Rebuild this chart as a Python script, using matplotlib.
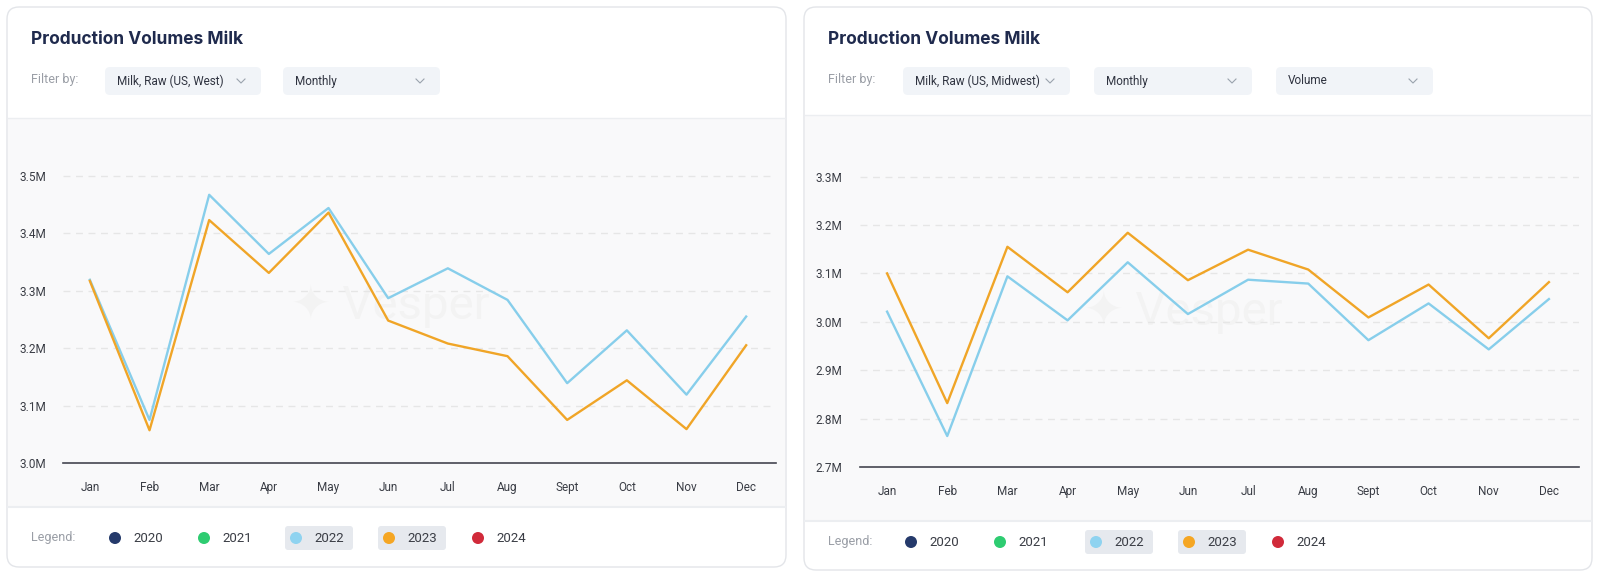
import matplotlib.pyplot as plt
import matplotlib.transforms as mtrans
from matplotlib.patches import FancyBboxPatch, Circle
from matplotlib.ticker import FuncFormatter

months = ['Jan', 'Feb', 'Mar', 'Apr', 'May', 'Jun', 'Jul', 'Aug', 'Sept', 'Oct', 'Nov', 'Dec']

# values in millions
west_2022 = [3.319, 3.075, 3.467, 3.364, 3.444, 3.287, 3.339, 3.284, 3.139, 3.231, 3.119, 3.255]
west_2023 = [3.317, 3.057, 3.423, 3.331, 3.436, 3.248, 3.208, 3.186, 3.075, 3.144, 3.059, 3.205]
midwest_2022 = [3.021, 2.764, 3.094, 3.003, 3.123, 3.016, 3.087, 3.079, 2.962, 3.038, 2.943, 3.047]
midwest_2023 = [3.100, 2.832, 3.155, 3.061, 3.184, 3.086, 3.149, 3.108, 3.009, 3.077, 2.966, 3.082]

west_ticks = [3.0, 3.1, 3.2, 3.3, 3.4, 3.5]
midwest_ticks = [2.7, 2.8, 2.9, 3.0, 3.1, 3.2, 3.3]

legend_years = ['2020', '2021', '2022', '2023', '2024']
legend_colors = ['#253a6b', '#2ecc71', '#8fd3f0', '#f5a623', '#d12a3a']
active_years = ['2022', '2023']

C22 = '#87ceeb'
C23 = '#f0a527'
FONT = ['Roboto', 'DejaVu Sans']

W, H = 1600, 578
fig = plt.figure(figsize=(W / 100, H / 100), dpi=100)
fig.patch.set_facecolor('white')

# pixel-space helper axes for the cards, filters and legend
bg = fig.add_axes([0, 0, 1, 1])
bg.set_xlim(0, W)
bg.set_ylim(H, 0)
bg.axis('off')


def rbox(x0, y0, x1, y1, fc, ec='none', r=6, lw=1.0, z=1):
    p = FancyBboxPatch((x0 + r, y0 + r), x1 - x0 - 2 * r, y1 - y0 - 2 * r,
                       boxstyle=f'round,pad={r}', fc=fc, ec=ec, lw=lw, zorder=z)
    bg.add_patch(p)


def dropdown(x0, x1, y0, y1, label):
    rbox(x0, y0, x1, y1, '#f1f4f8', r=5, z=2)
    cy = (y0 + y1) / 2
    bg.text(x0 + 12, cy, label, fontsize=8.5, color='#2f3340', va='center',
            family=FONT, zorder=3)
    cx = x1 - 20
    bg.plot([cx - 4, cx, cx + 4], [cy - 2, cy + 2, cy - 2], color='#9aa3ad', lw=0.8, zorder=3)


def card(x0, x1, y0, y1, plot_y0, plot_y1, filters, legend_y, legend_x):
    rbox(x0, y0, x1, y1, 'white', ec='#e3e5e9', r=12, lw=1.0, z=1)
    bg.add_patch(plt.Rectangle((x0 + 1, plot_y0), x1 - x0 - 2, plot_y1 - plot_y0,
                               fc='#f9f9fa', ec='none', zorder=1.5))
    bg.plot([x0 + 1, x1 - 1], [plot_y0, plot_y0], color='#eceef1', lw=1, zorder=1.6)
    bg.plot([x0 + 1, x1 - 1], [plot_y1, plot_y1], color='#eceef1', lw=1.5, zorder=1.6)
    bg.text(x0 + 24, 39, 'Production Volumes Milk', fontsize=12.5, fontweight='bold',
            color='#1f2a4d', va='center', family=['Inter', 'DejaVu Sans'], zorder=3)
    bg.text(x0 + 24, 80, 'Filter by:', fontsize=9, color='#9a9ea6', va='center',
            family=FONT, zorder=3)
    for fx0, fx1, lab in filters:
        dropdown(fx0, fx1, 67, 95, lab)
    bg.text(x0 + 24, legend_y, 'Legend:', fontsize=9, color='#9a9ea6', va='center',
            family=FONT, zorder=3)
    for yr, col, lx in zip(legend_years, legend_colors, legend_x):
        if yr in active_years:
            rbox(lx - 11, legend_y - 12, lx + 57, legend_y + 12, '#e6e9ee', r=3, z=2)
        bg.add_patch(Circle((lx, legend_y), 6, fc=col, ec='none', zorder=3))
        bg.text(lx + 18, legend_y, yr, fontsize=9.5, color='#3a3d45', va='center',
                family=FONT, zorder=3)


card(7, 786, 7, 567, 118, 507,
     [(105, 261, 'Milk, Raw (US, West)'), (283, 440, 'Monthly')],
     538, [115, 204, 296, 389, 478])
card(804, 1592, 7, 570, 115, 521,
     [(903, 1070, 'Milk, Raw (US, Midwest)'), (1094, 1252, 'Monthly'), (1276, 1433, 'Volume')],
     542, [911, 1000, 1096, 1189, 1278])

# faint watermarks
bg.text(390, 306, '\u2726 Vesper', fontsize=34, color='#f3f3f3', ha='center', va='center',
        family=FONT, zorder=1.7)
bg.text(1183, 312, '\u2726 Vesper', fontsize=34, color='#f3f3f3', ha='center', va='center',
        family=FONT, zorder=1.7)


def chart(box, s22, s23, ticks, ylim, label_x):
    x0, y0, x1, y1 = box
    ax = fig.add_axes([x0 / W, 1 - y1 / H, (x1 - x0) / W, (y1 - y0) / H])
    ax.set_facecolor('none')
    x = range(len(months))
    ax.plot(x, s22, color=C22, lw=1.7, zorder=3)
    ax.plot(x, s23, color=C23, lw=1.7, zorder=3)
    ax.set_xlim(-0.45, len(months) - 0.5)
    ax.set_ylim(*ylim)
    ax.set_xticks(list(x))
    ax.set_xticklabels(months)
    ax.set_yticks(ticks)
    ax.yaxis.set_major_formatter(FuncFormatter(lambda v, p: f'{v:.1f}M'))
    for t in ticks[1:]:
        ax.axhline(t, color='#e6e6e6', lw=1, ls=(0, (5, 4)), zorder=1)
    for s in ['top', 'right', 'left']:
        ax.spines[s].set_visible(False)
    ax.spines['bottom'].set_color('#444650')
    ax.spines['bottom'].set_linewidth(1.2)
    ax.tick_params(axis='both', length=0, labelsize=8.5, labelcolor='#3a3d45')
    ax.tick_params(axis='y', pad=0)
    ax.tick_params(axis='x', pad=13)
    for lab in ax.get_xticklabels() + ax.get_yticklabels():
        lab.set_family(FONT)
    # y labels left-aligned at a fixed pixel x
    for lab in ax.get_yticklabels():
        lab.set_horizontalalignment('left')
        lab.set_transform(mtrans.blended_transform_factory(bg.transData, ax.transData))
        lab.set_x(label_x)
    return ax


chart((63, 150, 776, 463), west_2022, west_2023, west_ticks, (3.0, 3.545), 19)
chart((860, 150, 1579, 467), midwest_2022, midwest_2023, midwest_ticks, (2.7, 3.355), 815)

fig.savefig('out.png', dpi=100, facecolor='white')
